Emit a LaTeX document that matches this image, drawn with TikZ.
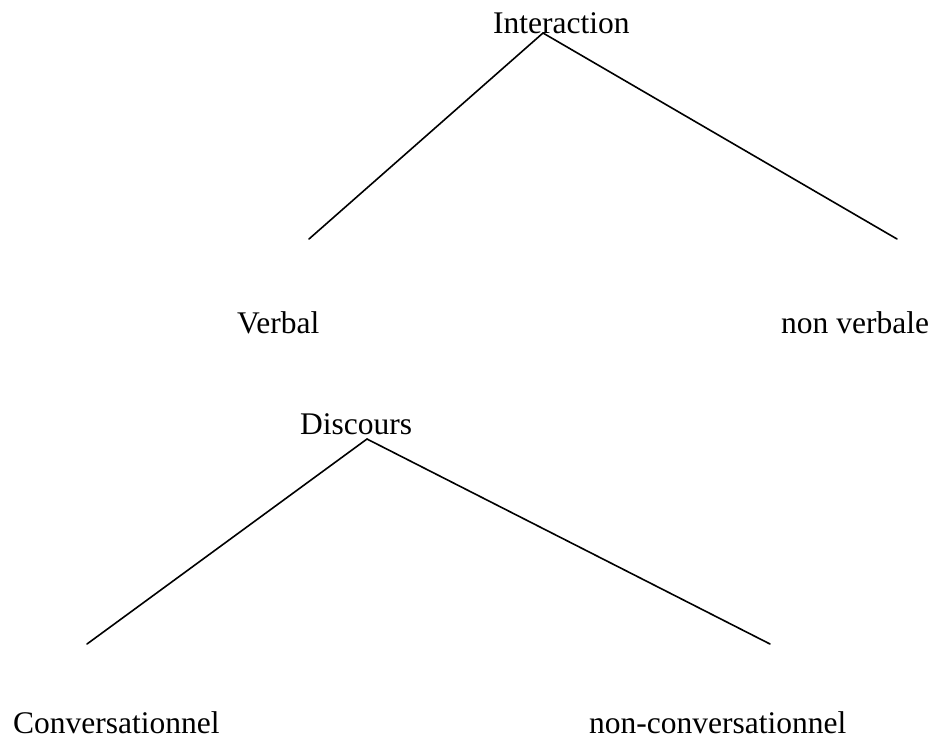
\documentclass[tikz,border=0pt]{standalone}
\usepackage{fontspec}
\setmainfont{Liberation Serif}
\begin{document}
\begin{tikzpicture}[x=1pt,y=-1pt,
  lbl/.style={anchor=base west,inner sep=0pt,font=\fontsize{31.5}{36}\selectfont},
  branch/.style={line width=1.6pt,line cap=round}]
\useasboundingbox[fill=white] (0,0) rectangle (932,740);
\node[lbl] (inter) at (493,33) {Interaction};
\node[lbl] (verbal) at (237,333) {Verbal};
\node[lbl] (nonverb) at (781,333) {non verbale};
\node[lbl] (disc) at (300,434) {Discours};
\node[lbl] (conv) at (13,733) {Conversationnel};
\node[lbl] (nonconv) at (589,733) {non-conversationnel};
\coordinate (ia) at (543,33);
\coordinate (il) at (309,239);
\coordinate (ir) at (897,239);
\coordinate (da) at (367,439);
\coordinate (dl) at (87,644);
\coordinate (dr) at (770,644);
\draw[branch] (il) -- (ia) -- (ir);
\draw[branch] (dl) -- (da) -- (dr);
\end{tikzpicture}
\end{document}
